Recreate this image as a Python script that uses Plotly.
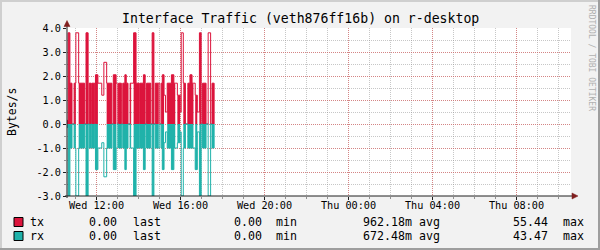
import plotly.graph_objects as go

# ---------------- data ----------------
DAY = "2024-01-10"   # a Wednesday
seg_times = ["10:35", "10:39", "10:44", "10:50", "10:56", "11:01", "11:09", "11:26", "11:30", "11:36",
             "11:39", "11:45", "11:47", "11:55", "11:57", "12:04", "12:15", "12:21", "12:29", "12:44",
             "12:48", "12:56", "12:59", "13:03", "13:11", "13:15", "13:21", "13:25", "13:30", "13:36",
             "13:39", "13:46", "13:53", "14:02", "14:04", "14:14", "14:19", "14:23", "14:35", "14:39",
             "14:44", "14:48", "14:58", "15:01", "15:05", "15:08", "15:13", "15:17", "15:22", "15:34",
             "15:41", "15:45", "15:51", "15:59", "16:02", "16:08", "16:14", "16:21", "16:27", "16:33",
             "16:37", "16:42", "16:48", "16:54", "16:59", "17:03", "17:13", "17:19", "17:26", "17:30"]
end_time = "17:36"
tx = [0.15, 3.8, 1.7, 0, 1.7, 3.8, 1.7, 0, 3.8, 0,
      1.7, 0, 1.7, 0, 2.05, 1.7, 1.2, 2.57, 1.7, 0,
      2.05, 1.7, 0, 1.7, 0, 1.7, 2.05, 1.7, 0, 1.7,
      1.7, 3.8, 1.7, 0, 1.7, 2.05, 0, 1.7, 0, 3.8,
      0, 1.7, 1.7, 0, 1.7, 2.05, 1.2, 0.5, 1.7, 2.05,
      1.7, 1.7, 1.2, 0.5, 3.8, 1.7, 0, 1.7, 2.05, 1.7,
      1.7, 1.2, 0.5, 3.8, 0, 1.7, 0, 3.8, 0, 1.7]
rx = [-0.15, -3.0, -1.0, 0, -1.0, -3.0, -1.0, 0, -3.0, 0,
      -1.0, 0, -1.0, 0, -1.9, -1.0, -0.78, -2.2, -1.0, 0,
      -1.9, -1.0, 0, -1.0, 0, -1.0, -1.9, -1.0, 0, -1.0,
      -1.0, -3.0, -1.0, 0, -1.0, -1.9, 0, -1.0, 0, -3.0,
      0, -1.0, -1.0, 0, -1.0, -1.9, -0.78, -0.33, -1.0, -1.9,
      -1.0, -1.0, -0.78, -0.33, -3.0, -1.0, 0, -1.0, -1.0, -1.0,
      -1.0, -1.9, -0.33, -3.0, 0, -1.0, 0, -3.0, 0, -1.0]
filled = [1, 1, 1, 0, 1, 0, 1, 0, 1, 0,
          1, 0, 1, 0, 1, 0, 0, 0, 1, 0,
          1, 0, 0, 1, 0, 1, 1, 1, 0, 1,
          0, 1, 1, 0, 1, 1, 0, 1, 0, 1,
          0, 1, 0, 0, 1, 1, 0, 0, 1, 1,
          1, 0, 1, 0, 0, 1, 0, 1, 1, 1,
          0, 1, 0, 1, 0, 1, 0, 0, 0, 1]

x_range = ["2024-01-10 10:35:42", "2024-01-11 10:35:42"]
tick_times = ["2024-01-10 12:00", "2024-01-10 16:00", "2024-01-10 20:00",
              "2024-01-11 00:00", "2024-01-11 04:00", "2024-01-11 08:00"]
tick_labels = ["Wed 12:00", "Wed 16:00", "Wed 20:00", "Thu 00:00", "Thu 04:00", "Thu 08:00"]
y_ticks = [-3, -2, -1, 0, 1, 2, 3, 4]
y_labels = ["-3.0", "-2.0", "-1.0", "0.0", "1.0", "2.0", "3.0", "4.0"]

series = ["tx", "rx"]
stat_last = ["0.00", "0.00"]
stat_min = ["0.00", "0.00"]
stat_avg = ["962.18m", "672.48m"]
stat_max = ["55.44", "43.47"]

# ---------------- styling / geometry ----------------
W, H = 600, 250
L, R, T, B = 67, 571, 28, 196
FONT = "DejaVu Sans Mono"
COLORS = ["#DC143C", "#20B2AA"]
BACK = "#F2F2F2"
MGRID = "rgba(222,79,79,0.55)"
GRID = "rgba(143,143,143,0.5)"
ARROW = "#801F1F"
AXIS = "#1F1F1F"


def px(x):
    return (x - L) / (R - L)


def py(y):
    return (B - y) / (B - T)


xs = [f"{DAY} {t}" for t in seg_times] + [f"{DAY} {end_time}"]

fig = go.Figure()
for vals, col in zip([tx, rx], COLORS):
    fill_vals = [v if f else 0 for v, f in zip(vals, filled)] + [0]
    fig.add_trace(go.Scatter(x=xs, y=fill_vals, mode="lines", fill="tozeroy",
                             fillcolor=col, line=dict(width=0, shape="hv", color=col),
                             hoverinfo="skip", showlegend=False))
    fig.add_trace(go.Scatter(x=xs, y=list(vals) + [0], mode="lines",
                             line=dict(width=1, shape="hv", color=col),
                             hoverinfo="skip", showlegend=False))

fig.update_layout(
    width=W, height=H,
    margin=dict(l=L, r=W - R, t=T, b=H - B, pad=0),
    paper_bgcolor=BACK, plot_bgcolor="#FFFFFF",
    showlegend=False,
    font=dict(family=FONT, color="#000000", size=10),
    xaxis=dict(type="date", range=x_range, tickmode="array", tickvals=tick_times,
               ticktext=tick_labels, showgrid=True, gridcolor=MGRID, griddash="1px,1px",
               gridwidth=1, zeroline=False, showline=False,
               ticks="outside", ticklen=3, tickcolor=AXIS, ticklabelstandoff=-3,
               tickfont=dict(family=FONT, size=10.2, color="#000"),
               minor=dict(tickmode="linear", tick0="2024-01-10 00:00", dtick=3600000,
                          showgrid=True, gridcolor=GRID, griddash="1px,1px",
                          ticks="outside", ticklen=2, tickcolor="#8F8F8F"),
               fixedrange=True),
    yaxis=dict(range=[-3, 4], tickmode="array", tickvals=y_ticks, ticktext=y_labels,
               showgrid=True, gridcolor=MGRID, griddash="1px,1px", gridwidth=1,
               zeroline=False, showline=False,
               ticks="outside", ticklen=3, tickcolor=AXIS,
               tickfont=dict(family=FONT, size=10.2, color="#000"),
               minor=dict(tickmode="linear", tick0=0, dtick=0.5, showgrid=True,
                          gridcolor=GRID, griddash="1px,1px",
                          ticks="outside", ticklen=2, tickcolor="#8F8F8F"),
               fixedrange=True),
)

shapes = []
# 3D frame
shapes.append(dict(type="line", xref="paper", yref="paper", x0=px(0), x1=px(W), y0=py(1), y1=py(1),
                   line=dict(color="#CFCFCF", width=2)))
shapes.append(dict(type="line", xref="paper", yref="paper", x0=px(1), x1=px(1), y0=py(0), y1=py(H),
                   line=dict(color="#CFCFCF", width=2)))
shapes.append(dict(type="line", xref="paper", yref="paper", x0=px(0), x1=px(W), y0=py(H - 1), y1=py(H - 1),
                   line=dict(color="#9E9E9E", width=2)))
shapes.append(dict(type="line", xref="paper", yref="paper", x0=px(W - 1), x1=px(W - 1), y0=py(0), y1=py(H),
                   line=dict(color="#9E9E9E", width=2)))
# axes
shapes.append(dict(type="line", xref="paper", yref="paper", x0=px(L), x1=px(L), y0=py(B + 2), y1=py(24),
                   line=dict(color=AXIS, width=1)))
shapes.append(dict(type="line", xref="paper", yref="paper", x0=px(L - 2), x1=px(574), y0=py(B), y1=py(B),
                   line=dict(color=AXIS, width=1)))
# arrows
shapes.append(dict(type="path", xref="paper", yref="paper",
                   path=f"M {px(L - 3)} {py(26.5)} L {px(L + 3)} {py(26.5)} L {px(L)} {py(20.5)} Z",
                   fillcolor=ARROW, line=dict(color=ARROW, width=0.5)))
shapes.append(dict(type="path", xref="paper", yref="paper",
                   path=f"M {px(572)} {py(B - 3)} L {px(572)} {py(B + 3)} L {px(578)} {py(B)} Z",
                   fillcolor=ARROW, line=dict(color=ARROW, width=0.5)))

annotations = []


def text(x, y, s, size, xanchor="left", angle=0, color="#000000"):
    annotations.append(dict(x=px(x), y=py(y), xref="paper", yref="paper", text=s, showarrow=False,
                            xanchor=xanchor, yanchor="middle", textangle=angle,
                            borderpad=0, borderwidth=0,
                            font=dict(family=FONT, size=size, color=color)))


text(300, 19, "Interface Traffic (veth876ff16b) on r-desktop", 13.2, xanchor="center")
text(12, 112, "Bytes/s", 11.5, xanchor="center", angle=-90)
text(592, 58, "RRDTOOL / TOBI OETIKER", 8, xanchor="center", angle=90, color="#B0B0B0")

row_y = [222, 236]
for i, name in enumerate(series):
    yy = row_y[i]
    shapes.append(dict(type="rect", xref="paper", yref="paper", x0=px(14), x1=px(23),
                       y0=py(yy - 4.5), y1=py(yy + 4.5), fillcolor=COLORS[i],
                       line=dict(color="#000000", width=1)))
    text(30, yy, name, 11.6)
    text(117, yy, stat_last[i], 11.6, xanchor="right")
    text(133, yy, "last", 11.6)
    text(262, yy, stat_min[i], 11.6, xanchor="right")
    text(276, yy, "min", 11.6)
    text(412, yy, stat_avg[i], 11.6, xanchor="right")
    text(419, yy, "avg", 11.6)
    text(548, yy, stat_max[i], 11.6, xanchor="right")
    text(563, yy, "max", 11.6)

fig.update_layout(shapes=shapes, annotations=annotations)
fig.write_html("out.html")
